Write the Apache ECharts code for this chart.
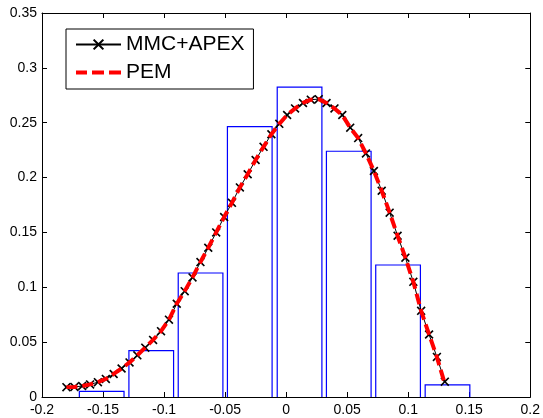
<!DOCTYPE html>
<html>
<head>
<meta charset="utf-8">
<script src="https://cdn.jsdelivr.net/npm/echarts@6/dist/echarts.min.js"></script>
<style>
html,body{margin:0;padding:0;background:#fff;}
#chart{width:543px;height:418px;}
</style>
</head>
<body>
<div id="chart"></div>
<script>
// ---- data ----
var seriesNames = ['MMC+APEX', 'PEM'];
var xVals = [-0.1800,-0.1735,-0.1671,-0.1606,-0.1542,-0.1477,-0.1413,-0.1348,-0.1283,-0.1219,
  -0.1154,-0.1090,-0.1025,-0.0960,-0.0896,-0.0831,-0.0767,-0.0702,-0.0638,-0.0573,
  -0.0508,-0.0444,-0.0379,-0.0315,-0.0250,-0.0185,-0.0121,-0.0056,0.0008,0.0073,
  0.0138,0.0202,0.0267,0.0331,0.0396,0.0460,0.0525,0.0590,0.0654,0.0719,
  0.0783,0.0848,0.0913,0.0977,0.1042,0.1106,0.1171,0.1235,0.1300];
var mmcY = [0.0090,0.0092,0.0100,0.0115,0.0135,0.0165,0.0210,0.0260,0.0315,0.0380,
  0.0450,0.0520,0.0600,0.0705,0.0850,0.0965,0.1090,0.1230,0.1360,0.1500,
  0.1640,0.1770,0.1910,0.2030,0.2160,0.2280,0.2395,0.2490,0.2570,0.2630,
  0.2680,0.2710,0.2715,0.2680,0.2630,0.2570,0.2455,0.2360,0.2220,0.2060,
  0.1880,0.1680,0.1470,0.1270,0.1050,0.0785,0.0570,0.0365,0.0140];
var pemY = [0.0090,0.0092,0.0100,0.0115,0.0135,0.0165,0.0210,0.0260,0.0315,0.0380,
  0.0450,0.0520,0.0600,0.0705,0.0850,0.0965,0.1090,0.1230,0.1360,0.1500,
  0.1640,0.1770,0.1910,0.2030,0.2160,0.2280,0.2395,0.2490,0.2570,0.2630,
  0.2680,0.2710,0.2715,0.2680,0.2630,0.2570,0.2455,0.2360,0.2220,0.2060,
  0.1880,0.1680,0.1470,0.1270,0.1050,0.0785,0.0570,0.0365,0.0120];
var binCenters = [-0.1511,-0.1105,-0.0701,-0.0298,0.0110,0.0513,0.0917,0.1322];
var binHeights = [0.0052,0.0422,0.1130,0.2464,0.2825,0.2240,0.1203,0.0110];

// ---- chart ----
var BAR_WIDTH = 0.0366;
var FONT = "'Liberation Sans', Arial, sans-serif";
var chart = echarts.init(document.getElementById('chart'), null, {renderer: 'canvas'});

function pairs(xs, ys){ return xs.map(function(x, i){ return [x, ys[i]]; }); }
var histData = binCenters.map(function(c, i){ return [c, binHeights[i]]; });

var xCommon = {type:'value', min:-0.2, max:0.2, interval:0.05, splitLine:{show:false},
  axisLine:{show:true, onZero:false, lineStyle:{color:'#000', width:1}},
  axisTick:{show:true, inside:true, length:5, lineStyle:{color:'#000'}}};
var yCommon = {type:'value', min:0, max:0.35, interval:0.05, splitLine:{show:false},
  axisLine:{show:true, onZero:false, lineStyle:{color:'#000', width:1}},
  axisTick:{show:true, inside:true, length:5, lineStyle:{color:'#000'}}};

var crossPath = 'path://M0,1.3L1.3,0L5,3.7L8.7,0L10,1.3L6.3,5L10,8.7L8.7,10L5,6.3L1.3,10L0,8.7L3.7,5Z';
// dashed legend icon (45x14 box; tiny corner squares fix the bounds)
var dashIcon = 'path://M0,0h0.01v0.01h-0.01z M44.99,13.99h0.01v0.01h-0.01z ' +
  'M0,5h11v4h-11z M16,5h12v4h-12z M33,5h12v4h-12z';

chart.setOption({
  animation: false,
  backgroundColor: '#fff',
  grid: {left:42, right:10, top:13, bottom:21, containLabel:false},
  xAxis: [
    Object.assign({}, xCommon, {position:'bottom',
      axisLabel:{show:true, color:'#000', fontSize:14, fontFamily:FONT, margin:6,
        formatter:function(v){ return String(+v.toFixed(2)); }}}),
    Object.assign({}, xCommon, {position:'top', axisLabel:{show:false}})
  ],
  yAxis: [
    Object.assign({}, yCommon, {position:'left',
      axisLabel:{show:true, color:'#000', fontSize:14, fontFamily:FONT, margin:5,
        formatter:function(v){ return String(+v.toFixed(2)); }}}),
    Object.assign({}, yCommon, {position:'right', axisLabel:{show:false}})
  ],
  legend: {
    orient:'vertical', left:66, top:29,
    data:[{name:seriesNames[0]}, {name:seriesNames[1], icon:dashIcon, itemStyle:{color:'#ff0000'}}],
    backgroundColor:'#fff', borderColor:'#000', borderWidth:1, borderRadius:0,
    padding:[5,9,6,9], itemGap:7, itemWidth:45, itemHeight:14,
    textStyle:{fontSize:21, color:'#000', fontFamily:FONT}
  },
  series: [
    {
      type:'custom', name:'hist', xAxisIndex:0, yAxisIndex:0, z:1,
      data: histData,
      encode:{x:0, y:1},
      itemStyle:{color:'#0000ff', borderColor:'#0000ff'},
      emphasis:{disabled:true},
      renderItem: function(params, api){
        var c = api.value(0), h = api.value(1);
        var p0 = api.coord([c - BAR_WIDTH/2, h]);
        var p1 = api.coord([c + BAR_WIDTH/2, 0]);
        return {
          type:'polyline',
          shape:{points:[[p0[0],p1[1]],[p0[0],p0[1]],[p1[0],p0[1]],[p1[0],p1[1]]]},
          style:{fill:'none', stroke:'#0000ff', lineWidth:1.2}
        };
      }
    },
    {
      type:'line', name:seriesNames[0], z:3,
      data: pairs(xVals, mmcY),
      showAllSymbol:true, symbol:crossPath, symbolSize:9,
      itemStyle:{color:'#000'},
      lineStyle:{color:'#000', width:1},
      emphasis:{disabled:true}
    },
    {
      type:'line', name:seriesNames[1], z:4,
      data: pairs(xVals, pemY),
      symbol:'none', smooth:false,
      itemStyle:{color:'#ff0000'},
      lineStyle:{color:'#ff0000', width:4, type:[11,5]},
      emphasis:{disabled:true}
    }
  ]
});
</script>
</body>
</html>
